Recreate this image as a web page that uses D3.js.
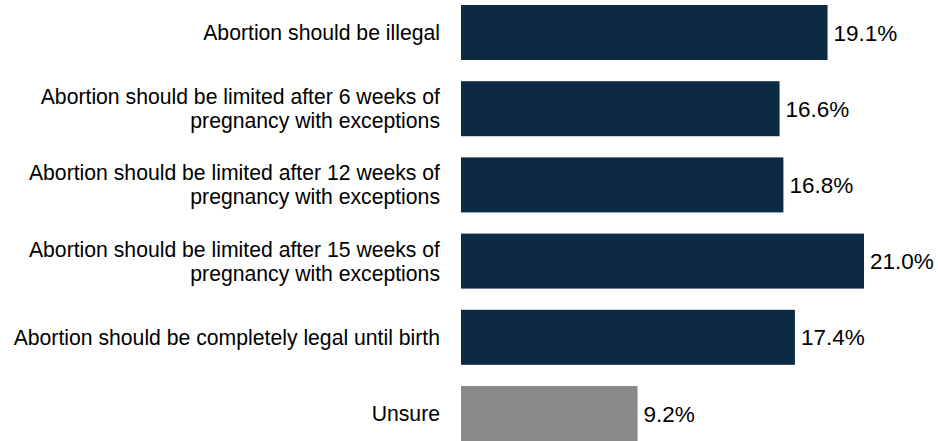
<!DOCTYPE html>
<html>
<head>
<meta charset="utf-8">
<script src="https://cdn.jsdelivr.net/npm/d3@7"></script>
<style>
  body { margin: 0; background: #fff; }
  text { font-family: "Liberation Sans", Arial, sans-serif; fill: #000; }
</style>
</head>
<body>
<div id="chart"></div>
<script>
const labels = [
  ["Abortion should be illegal"],
  ["Abortion should be limited after 6 weeks of", "pregnancy with exceptions"],
  ["Abortion should be limited after 12 weeks of", "pregnancy with exceptions"],
  ["Abortion should be limited after 15 weeks of", "pregnancy with exceptions"],
  ["Abortion should be completely legal until birth"],
  ["Unsure"]
];
const values = [19.1, 16.6, 16.8, 21.0, 17.4, 9.2];
const barColors = ["#0d2a45", "#0d2a45", "#0d2a45", "#0d2a45", "#0d2a45", "#898989"];

const width = 938, height = 441;
const margin = { top: 5, right: 0, bottom: 0, left: 461 };

const svg = d3.select("#chart").append("svg")
  .attr("width", width).attr("height", height);

const idx = d3.range(values.length);

const y = d3.scaleBand()
  .domain(idx)
  .range([margin.top, height])
  .paddingInner(0.278)
  .paddingOuter(0);

const x = d3.scaleLinear()
  .domain([0, 21])
  .range([margin.left, 864]);

svg.selectAll("rect.bar")
  .data(idx)
  .join("rect")
  .attr("class", "bar")
  .attr("x", x(0))
  .attr("y", d => y(d))
  .attr("width", d => x(values[d]) - x(0))
  .attr("height", y.bandwidth())
  .attr("fill", d => barColors[d]);

svg.selectAll("text.value")
  .data(idx)
  .join("text")
  .attr("class", "value")
  .attr("x", d => x(values[d]) + 6)
  .attr("y", d => y(d) + y.bandwidth() / 2)
  .attr("dy", "0.36em")
  .style("font-size", "22.5px")
  .text(d => values[d].toFixed(1) + "%");

const lab = svg.selectAll("text.label")
  .data(idx)
  .join("text")
  .attr("class", "label")
  .attr("text-anchor", "end")
  .style("font-size", "21.2px")
  .attr("transform", d => `translate(440,${y(d) + y.bandwidth() / 2})`);

lab.selectAll("tspan")
  .data(d => labels[d].map((t, i, a) => ({ t, i, n: a.length })))
  .join("tspan")
  .attr("x", 0)
  .attr("y", d => (d.i - (d.n - 1) / 2) * 24)
  .attr("dy", "0.35em")
  .text(d => d.t);
</script>
</body>
</html>
